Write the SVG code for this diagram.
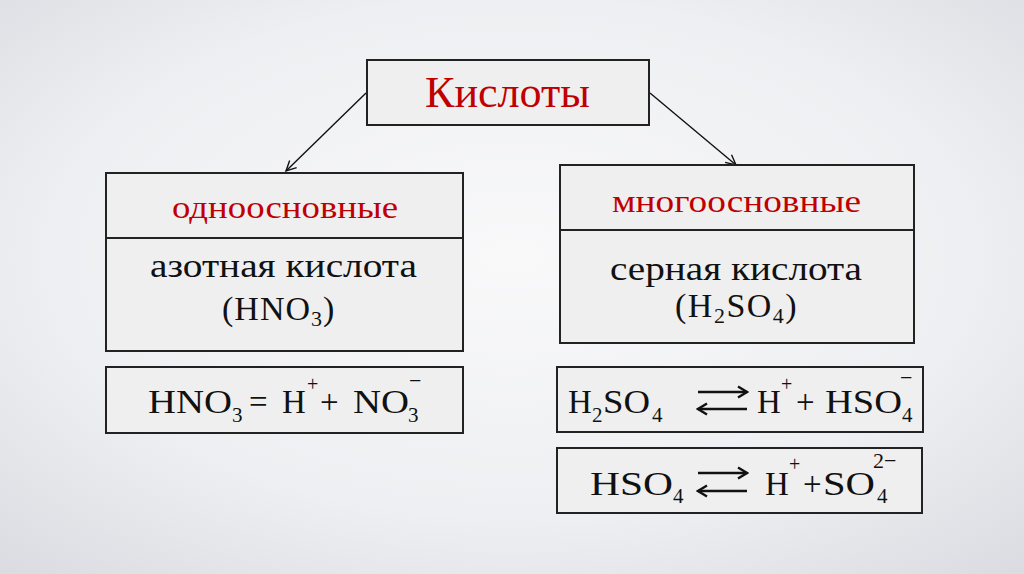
<svg xmlns="http://www.w3.org/2000/svg" width="1024" height="574" viewBox="0 0 1024 574">
<defs>
<radialGradient id="bg" cx="0.5" cy="0.45" r="0.75">
<stop offset="0" stop-color="#f9f9fa"/>
<stop offset="0.6" stop-color="#eeeff2"/>
<stop offset="1" stop-color="#d9dbe0"/>
</radialGradient>
<marker id="ah" markerWidth="14" markerHeight="14" refX="12" refY="7" orient="auto" markerUnits="userSpaceOnUse">
<path d="M2,2 L12,7 L2,12" fill="none" stroke="#111" stroke-width="1.4"/>
</marker>
<marker id="eq" markerWidth="14" markerHeight="14" refX="12" refY="7" orient="auto" markerUnits="userSpaceOnUse">
<path d="M3,1.5 L12,7 L3,12.5" fill="none" stroke="#111" stroke-width="2.4"/>
</marker>
</defs>
<style>
.box{fill:#efefef;stroke:#222;stroke-width:2}
.t{font-family:"Liberation Serif","DejaVu Serif",serif;fill:#111}
.red{fill:#c00000}
.conn{stroke:#111;stroke-width:1.4;fill:none}
.ar{stroke:#111;stroke-width:2.4;fill:none}
</style>
<rect width="1024" height="574" fill="url(#bg)"/>

<g id="connectors">
<line class="conn" x1="366" y1="93" x2="286" y2="171" marker-end="url(#ah)"/>
<line class="conn" x1="650" y1="93" x2="736" y2="165" marker-end="url(#ah)"/>
</g>

<g id="root">
<rect class="box" x="367" y="60" width="282" height="65"/>
<text class="t red" x="425" y="107" font-size="44" textLength="165" lengthAdjust="spacingAndGlyphs">Кислоты</text>
</g>

<g id="mono">
<rect class="box" x="106" y="173" width="357" height="178"/>
<line x1="106" y1="238" x2="463" y2="238" stroke="#222" stroke-width="2"/>
<text class="t red" x="172" y="218" font-size="32" textLength="226" lengthAdjust="spacingAndGlyphs">одноосновные</text>
<text class="t" x="150" y="277" font-size="33" textLength="267" lengthAdjust="spacingAndGlyphs">азотная кислота</text>
<text class="t" x="222" y="320" font-size="34" letter-spacing="1">(HNO<tspan font-size="22" dy="6">3</tspan><tspan dy="-6">)</tspan></text>
</g>

<g id="poly">
<rect class="box" x="560" y="165" width="354" height="178"/>
<line x1="560" y1="230" x2="914" y2="230" stroke="#222" stroke-width="2"/>
<text class="t red" x="612" y="212" font-size="32" textLength="249" lengthAdjust="spacingAndGlyphs">многоосновные</text>
<text class="t" x="610" y="280" font-size="33" textLength="252" lengthAdjust="spacingAndGlyphs">серная кислота</text>
<text class="t" x="675" y="317" font-size="34" letter-spacing="1.5">(H<tspan font-size="22" dy="6">2</tspan><tspan dy="-6">SO</tspan><tspan font-size="22" dy="6">4</tspan><tspan dy="-6">)</tspan></text>
</g>

<g id="eq1">
<rect class="box" x="106" y="367" width="357" height="66"/>
<text class="t" x="148" y="413" font-size="33" textLength="84" lengthAdjust="spacingAndGlyphs">HNO</text>
<text class="t" x="232" y="422" font-size="21">3</text>
<text class="t" x="249" y="413" font-size="33">=</text>
<text class="t" x="282" y="413" font-size="33">H</text>
<text class="t" x="307" y="391" font-size="20">+</text>
<text class="t" x="320" y="413" font-size="33">+</text>
<text class="t" x="353" y="413" font-size="33" textLength="56" lengthAdjust="spacingAndGlyphs">NO</text>
<text class="t" x="408" y="422" font-size="21">3</text>
<text class="t" x="409" y="388" font-size="22">−</text>
</g>

<g id="eq2">
<rect class="box" x="557" y="367" width="366" height="65"/>
<text class="t" x="568" y="413" font-size="33">H</text>
<text class="t" x="592" y="422" font-size="21">2</text>
<text class="t" x="603" y="413" font-size="33" textLength="47" lengthAdjust="spacingAndGlyphs">SO</text>
<text class="t" x="652" y="422" font-size="21">4</text>
<line class="ar" x1="698" y1="392" x2="747" y2="392" marker-end="url(#eq)"/>
<line class="ar" x1="747" y1="409" x2="698" y2="409" marker-end="url(#eq)"/>
<text class="t" x="757" y="413" font-size="33">H</text>
<text class="t" x="781" y="391" font-size="20">+</text>
<text class="t" x="796" y="413" font-size="33">+</text>
<text class="t" x="825" y="413" font-size="33" textLength="77" lengthAdjust="spacingAndGlyphs">HSO</text>
<text class="t" x="902" y="422" font-size="21">4</text>
<text class="t" x="900" y="385" font-size="22">−</text>
</g>

<g id="eq3">
<rect class="box" x="557" y="448" width="365" height="65"/>
<text class="t" x="590" y="495" font-size="33" textLength="83" lengthAdjust="spacingAndGlyphs">HSO</text>
<text class="t" x="673" y="503" font-size="21">4</text>
<line class="ar" x1="698" y1="473" x2="747" y2="473" marker-end="url(#eq)"/>
<line class="ar" x1="747" y1="491" x2="698" y2="491" marker-end="url(#eq)"/>
<text class="t" x="765" y="495" font-size="33">H</text>
<text class="t" x="789" y="471" font-size="20">+</text>
<text class="t" x="803" y="495" font-size="33">+</text>
<text class="t" x="823" y="495" font-size="33" textLength="52" lengthAdjust="spacingAndGlyphs">SO</text>
<text class="t" x="877" y="503" font-size="21">4</text>
<text class="t" x="873" y="468" font-size="22">2−</text>
</g>
</svg>
